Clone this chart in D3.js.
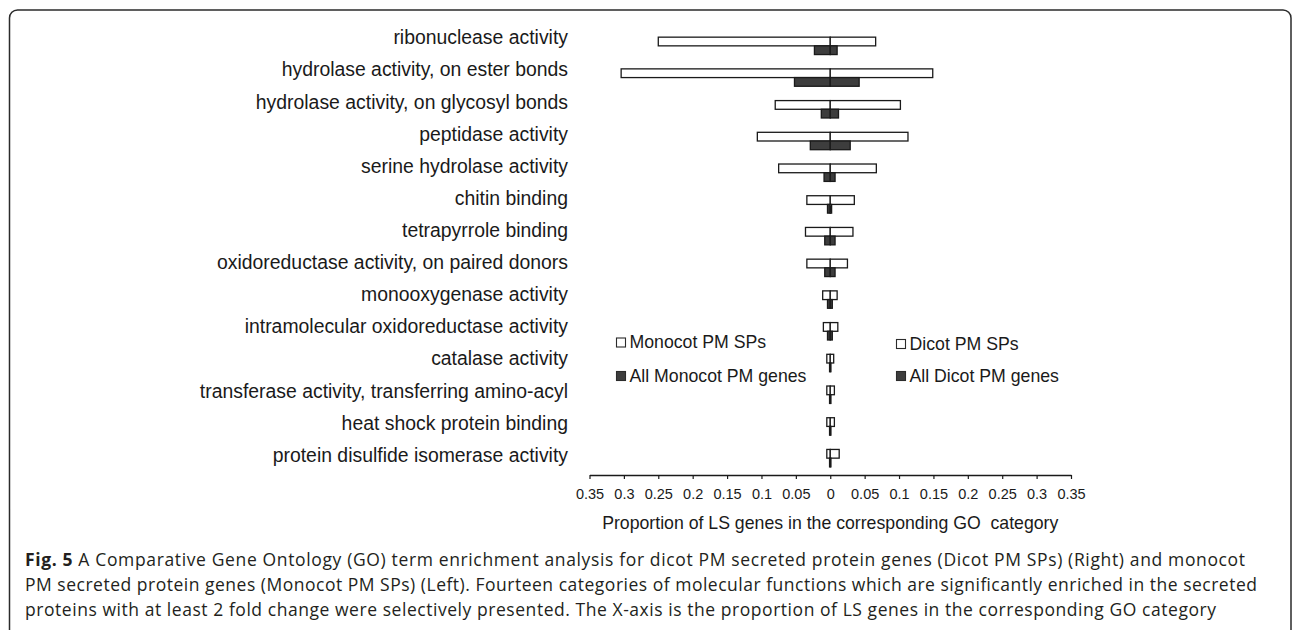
<!DOCTYPE html>
<html>
<head>
<meta charset="utf-8">
<script src="https://cdn.jsdelivr.net/npm/d3@7.9.0/dist/d3.min.js"></script>
<style>
  body { margin: 0; background: #fff; }
  svg { display: block; }
  text { font-family: "Liberation Sans", Arial, sans-serif; fill: #1a1a1a; }
  .caption text { font-family: "Open Sans", "Noto Sans", sans-serif; fill: #231f20; }
</style>
</head>
<body>
<svg id="chart"></svg>
<script>
/* =========================
   DATA
========================= */
const categories = [
  'ribonuclease activity',
  'hydrolase activity, on ester bonds',
  'hydrolase activity, on glycosyl bonds',
  'peptidase activity',
  'serine hydrolase activity',
  'chitin binding',
  'tetrapyrrole binding',
  'oxidoreductase activity, on paired donors',
  'monooxygenase activity',
  'intramolecular oxidoreductase activity',
  'catalase activity',
  'transferase activity, transferring amino-acyl',
  'heat shock protein binding',
  'protein disulfide isomerase activity'
];

// left side (monocot)
const monocotSPs = [0.250, 0.304, 0.080, 0.106, 0.075, 0.034, 0.036, 0.034, 0.011, 0.010, 0.005, 0.005, 0.005, 0.005];
const monocotAll = [0.023, 0.052, 0.013, 0.029, 0.009, 0.004, 0.008, 0.008, 0.004, 0.004, 0.001, 0.001, 0.001, 0.001];

// right side (dicot)
const dicotSPs = [0.066, 0.149, 0.102, 0.113, 0.067, 0.035, 0.033, 0.025, 0.010, 0.011, 0.005, 0.006, 0.006, 0.013];
const dicotAll = [0.010, 0.042, 0.012, 0.029, 0.007, 0.002, 0.007, 0.007, 0.003, 0.003, 0.001, 0.001, 0.001, 0.001];

const tickValues = [-0.35, -0.3, -0.25, -0.2, -0.15, -0.1, -0.05, 0, 0.05, 0.1, 0.15, 0.2, 0.25, 0.3, 0.35];

const legendMonocot = ['Monocot PM SPs', 'All Monocot PM genes'];
const legendDicot = ['Dicot PM SPs', 'All Dicot PM genes'];

const axisTitle = 'Proportion of LS genes in the corresponding GO  category';

const captionLines = [
  ['Fig. 5', ' A Comparative Gene Ontology (GO) term enrichment analysis for dicot PM secreted protein genes (Dicot PM SPs) (Right) and monocot'],
  ['', 'PM secreted protein genes (Monocot PM SPs) (Left). Fourteen categories of molecular functions which are significantly enriched in the secreted'],
  ['', 'proteins with at least 2 fold change were selectively presented. The X-axis is the proportion of LS genes in the corresponding GO category']
];

/* =========================
   LAYOUT
========================= */
const width = 1292;
const height = 630;

const svg = d3.select('#chart')
  .attr('width', width)
  .attr('height', height);

// figure frame (rounded, runs off the bottom)
svg.append('rect')
  .attr('x', 9.5)
  .attr('y', 10)
  .attr('width', 1281.5)
  .attr('height', 700)
  .attr('rx', 8)
  .attr('fill', 'none')
  .attr('stroke', '#2b2b2b')
  .attr('stroke-width', 1.5);

const rows = categories.map((c, i) => ({
  cat: c,
  monoSP: monocotSPs[i],
  monoAll: monocotAll[i],
  dicSP: dicotSPs[i],
  dicAll: dicotAll[i]
}));

/* =========================
   SCALES
========================= */
const xScale = d3.scaleLinear()
  .domain([-0.35, 0.35])
  .range([589.5, 1071]);

const yScale = d3.scaleBand()
  .domain(categories)
  .range([30, 474])
  .padding(0);

const barH = 8.7;

const labelScale = d3.scalePoint()
  .domain(categories)
  .range([37.5, 455]);

/* =========================
   BARS
========================= */
const bars = svg.append('g').attr('class', 'bars');

const rowG = bars.selectAll('g')
  .data(rows)
  .join('g')
  .attr('transform', d => `translate(0,${yScale(d.cat) + yScale.bandwidth() / 2})`);

// white (secreted protein) bars on top half
rowG.append('rect')
  .attr('x', d => xScale(-d.monoSP))
  .attr('y', -barH)
  .attr('width', d => xScale(0) - xScale(-d.monoSP))
  .attr('height', barH)
  .attr('fill', '#fff')
  .attr('stroke', '#1a1a1a')
  .attr('stroke-width', 1.3);

rowG.append('rect')
  .attr('x', xScale(0))
  .attr('y', -barH)
  .attr('width', d => xScale(d.dicSP) - xScale(0))
  .attr('height', barH)
  .attr('fill', '#fff')
  .attr('stroke', '#1a1a1a')
  .attr('stroke-width', 1.3);

// dark (all genes) bars on bottom half
rowG.append('rect')
  .attr('x', d => xScale(-d.monoAll))
  .attr('y', 0)
  .attr('width', d => xScale(0) - xScale(-d.monoAll))
  .attr('height', barH)
  .attr('fill', '#3d3d3d')
  .attr('stroke', '#1a1a1a')
  .attr('stroke-width', 1.3);

rowG.append('rect')
  .attr('x', xScale(0))
  .attr('y', 0)
  .attr('width', d => xScale(d.dicAll) - xScale(0))
  .attr('height', barH)
  .attr('fill', '#3d3d3d')
  .attr('stroke', '#1a1a1a')
  .attr('stroke-width', 1.3);

/* =========================
   CATEGORY LABELS
========================= */
svg.append('g')
  .attr('class', 'labels')
  .selectAll('text')
  .data(categories)
  .join('text')
  .attr('x', 568)
  .attr('y', d => labelScale(d))
  .attr('dy', '0.35em')
  .attr('text-anchor', 'end')
  .style('font-size', '19.4px')
  .text(d => d);

/* =========================
   X AXIS
========================= */
const axisY = 475;

const xAxis = svg.append('g')
  .attr('transform', `translate(0,${axisY})`)
  .call(
    d3.axisBottom(xScale)
      .tickValues(tickValues)
      .tickSize(4)
      .tickSizeOuter(0)
      .tickPadding(10)
      .tickFormat(d => d3.format('~g')(Math.abs(d)))
  );

xAxis.select('.domain')
  .attr('stroke', '#1a1a1a')
  .attr('stroke-width', 1.4);

xAxis.selectAll('.tick line')
  .attr('stroke', '#1a1a1a')
  .attr('stroke-width', 1.2);

xAxis.selectAll('.tick text')
  .attr('fill', '#1a1a1a')
  .style('font-family', '"Liberation Sans", Arial, sans-serif')
  .style('font-size', '14.5px');

svg.append('text')
  .attr('x', xScale(0))
  .attr('y', 529)
  .attr('text-anchor', 'middle')
  .style('font-size', '17.7px')
  .style('white-space', 'pre')
  .text(axisTitle);

/* =========================
   LEGENDS
========================= */
const legendFills = ['#fff', '#3d3d3d'];

function drawLegend(items, x0, baselines) {
  const g = svg.append('g').attr('class', 'legend');
  items.forEach((label, i) => {
    g.append('rect')
      .attr('x', x0)
      .attr('y', baselines[i] - 10)
      .attr('width', 9)
      .attr('height', 9)
      .attr('fill', legendFills[i])
      .attr('stroke', '#2b2b2b')
      .attr('stroke-width', 1.1);
    g.append('text')
      .attr('x', x0 + 13)
      .attr('y', baselines[i])
      .style('font-size', '17.7px')
      .text(label);
  });
}

drawLegend(legendMonocot, 616.5, [348, 381.5]);
drawLegend(legendDicot, 896.5, [349.5, 381.5]);

/* =========================
   CAPTION
========================= */
const captionEnds = [1245, 1257, 1216];
const captionBase = [566, 591, 616];

const cap = svg.append('g').attr('class', 'caption');

captionLines.forEach(([bold, rest], i) => {
  const t = cap.append('text')
    .attr('x', 25)
    .attr('y', captionBase[i])
    .attr('textLength', captionEnds[i] - 25)
    .attr('lengthAdjust', 'spacing')
    .style('font-size', '17.5px')
    .style('white-space', 'pre');
  if (bold) {
    t.append('tspan').style('font-weight', 'bold').text(bold);
  }
  t.append('tspan').text(rest);
});
</script>
</body>
</html>
